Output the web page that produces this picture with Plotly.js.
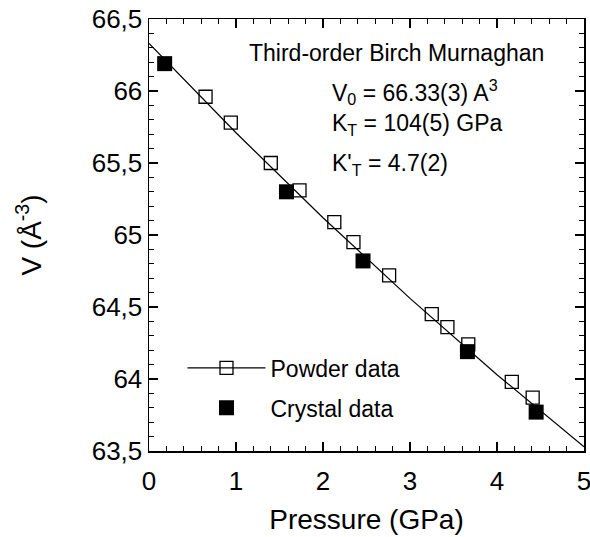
<!DOCTYPE html>
<html>
<head>
<meta charset="utf-8">
<script src="https://cdn.plot.ly/plotly-3.0.1.min.js"></script>
<style>html,body{margin:0;padding:0;background:#fff;}#chart{width:590px;height:537px;}</style>
</head>
<body>
<div id="chart"></div>
<script>
// Data
var powderP = [0.65, 0.94, 1.40, 1.73, 2.13, 2.35, 2.76, 3.25, 3.43, 3.67, 4.17, 4.41];
var powderV = [65.96, 65.78, 65.50, 65.31, 65.09, 64.95, 64.72, 64.45, 64.36, 64.24, 63.98, 63.87];
var crystalP = [0.18, 1.58, 2.46, 3.66, 4.45];
var crystalV = [66.19, 65.30, 64.82, 64.19, 63.77];
var fitP = [0, 1, 2, 3, 4, 5];
var fitV = [66.33, 65.71, 65.12, 64.56, 64.03, 63.53];
var xTitle = 'Pressure (GPa)';
var yTitle = 'V (Å<sup>-3</sup>)';
var fitLabel = 'Third-order Birch Murnaghan';
var paramLabels = ['V<sub>0</sub> = 66.33(3) A<sup>3</sup>', 'K<sub>T</sub> = 104(5) GPa', "K'<sub>T</sub> = 4.7(2)"];

var FONT = 'Liberation Sans, Arial, Helvetica, sans-serif';

var traces = [
  {x: fitP, y: fitV, mode: 'lines', line: {color: '#000', width: 1.2}, showlegend: false, hoverinfo: 'skip'},
  {x: powderP, y: powderV, mode: 'markers', name: 'Powder data', showlegend: false,
   marker: {symbol: 'square-open', size: 13, color: '#000', line: {width: 1.3}}},
  {x: [null], y: [null], mode: 'lines+markers', name: 'Powder data', legendgroup: 'a',
   line: {color: '#000', width: 1.1},
   marker: {symbol: 'square-open', size: 13, color: '#000', line: {width: 1.3}}},
  {x: crystalP, y: crystalV, mode: 'markers', name: 'Crystal data', legendgroup: 'b',
   marker: {symbol: 'square', size: 15, color: '#000'}}
];

var ann = [{text: fitLabel, x: 0.225, y: 0.921}];
var ys = [0.831, 0.755, 0.664];
for (var i = 0; i < paramLabels.length; i++) ann.push({text: paramLabels[i], x: 0.415, y: ys[i]});
ann = ann.map(function (a) {
  return {text: a.text, x: a.x, y: a.y, xref: 'paper', yref: 'paper', xanchor: 'left', yanchor: 'middle',
    showarrow: false, font: {family: FONT, size: 23, color: '#000'}};
});

var axisCommon = {
  showgrid: false, zeroline: false, showline: true, linecolor: '#000', linewidth: 1.5,
  mirror: 'ticks', ticks: 'inside', ticklen: 9, tickwidth: 1.2, tickcolor: '#000',
  ticklabeloverflow: 'allow',
  tickfont: {family: FONT, size: 26, color: '#000'}
};

var layout = {
  width: 590, height: 537,
  margin: {l: 149, r: 6, t: 19, b: 86},
  paper_bgcolor: '#fff', plot_bgcolor: '#fff',
  separators: ', ',
  font: {family: FONT, color: '#000'},
  xaxis: Object.assign({}, axisCommon, {
    range: [0, 5], dtick: 1, tick0: 0, ticklabelstandoff: 6,
    minor: {dtick: 0.2, ticks: 'inside', ticklen: 5, tickwidth: 1.2, tickcolor: '#000', showgrid: false},
    title: {text: xTitle, font: {family: FONT, size: 28, color: '#000'}, standoff: 14}
  }),
  yaxis: Object.assign({}, axisCommon, {
    range: [63.5, 66.5], dtick: 0.5, tick0: 63.5,
    minor: {dtick: 0.1, ticks: 'inside', ticklen: 5, tickwidth: 1.2, tickcolor: '#000', showgrid: false},
    title: {text: yTitle, font: {family: FONT, size: 28, color: '#000'}, standoff: 42}
  }),
  legend: {x: 0.077, y: 0.146, xanchor: 'left', yanchor: 'middle', bgcolor: 'rgba(0,0,0,0)',
    font: {family: FONT, size: 23, color: '#000'}, itemwidth: 78, tracegroupgap: 7},
  annotations: ann
};

Plotly.newPlot('chart', traces, layout, {displayModeBar: false, staticPlot: true});
</script>
</body>
</html>
